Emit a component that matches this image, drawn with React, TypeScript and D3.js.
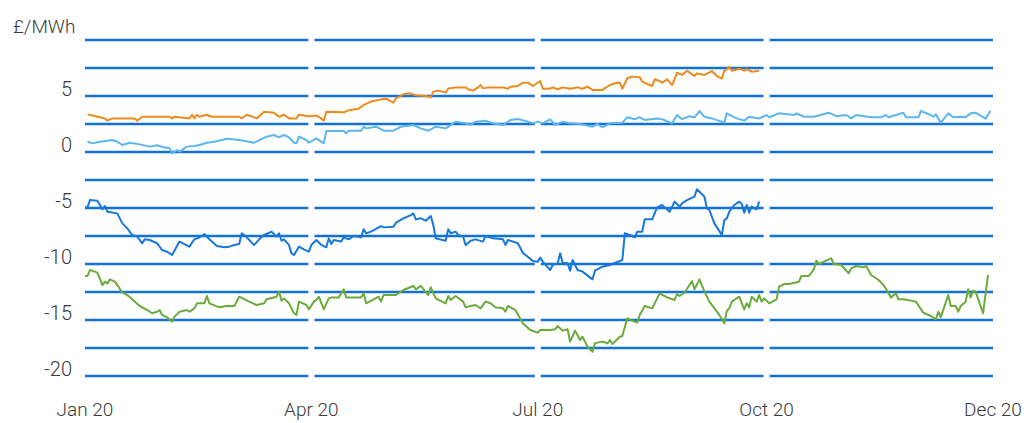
import * as React from "react"
import * as d3 from "d3"

// days counted from 1 Jan 2020, values in £/MWh
const orangeDay = [1, 6, 8, 9, 11, 20, 21, 23, 34, 35, 36, 42, 43, 44, 45, 46, 49, 51, 62, 63, 65, 67, 69, 72, 76, 78, 80, 82, 85, 86, 90, 93, 94, 96, 97, 104, 106, 110, 112, 115, 119, 121, 124, 125, 128, 131, 133, 137, 139, 140, 142, 145, 146, 149, 153, 154, 156, 158, 159, 160, 162, 168, 170, 171, 174, 176, 178, 180, 183, 184, 187, 188, 190, 192, 195, 198, 200, 202, 204, 208, 211, 214, 215, 216, 218, 220, 223, 224, 226, 228, 229, 231, 232, 234, 236, 237, 238, 240, 242, 245, 246, 249, 252, 254, 256, 257, 258, 259, 260, 263, 265, 266, 268, 271]
const orange = [3.36, 3.1, 3.0, 2.8, 3.0, 3.0, 2.8, 3.15, 3.15, 3.0, 3.15, 3.0, 3.33, 3.0, 3.33, 3.15, 3.33, 3.15, 3.15, 3.0, 3.33, 3.18, 3.0, 3.6, 3.5, 3.15, 3.33, 3.0, 3.0, 3.33, 3.2, 3.25, 3.15, 2.8, 3.6, 3.54, 3.72, 3.87, 4.2, 4.5, 4.7, 4.76, 4.4, 4.79, 5.15, 5.24, 5.06, 5.0, 4.88, 5.39, 5.48, 5.3, 5.68, 5.77, 5.77, 5.6, 5.48, 5.77, 5.98, 5.68, 5.77, 5.77, 5.65, 5.83, 5.89, 6.19, 6.19, 5.89, 6.34, 5.65, 5.65, 5.77, 5.6, 5.77, 5.65, 5.77, 5.65, 5.83, 5.54, 5.54, 5.98, 6.19, 6.19, 5.65, 6.58, 6.73, 6.67, 6.28, 6.07, 5.89, 6.49, 6.34, 6.19, 6.49, 5.98, 6.5, 7.08, 6.88, 7.26, 6.79, 7.02, 6.88, 7.23, 6.79, 6.55, 7.26, 7.38, 7.62, 7.26, 7.44, 7.26, 7.41, 7.17, 7.26]

const lightDay = [1, 3, 6, 11, 13, 15, 18, 22, 26, 29, 31, 34, 35, 37, 38, 41, 44, 46, 49, 52, 57, 62, 68, 73, 76, 78, 80, 82, 84, 85, 86, 89, 90, 93, 96, 97, 104, 105, 106, 111, 112, 113, 117, 120, 124, 127, 132, 135, 138, 141, 145, 149, 153, 155, 157, 161, 164, 168, 171, 174, 178, 180, 182, 184, 187, 189, 192, 195, 199, 204, 206, 208, 211, 216, 218, 221, 223, 225, 230, 232, 236, 238, 240, 243, 245, 247, 249, 252, 257, 258, 260, 262, 265, 267, 271, 274, 275, 279, 285, 286, 289, 293, 299, 302, 306, 308, 310, 316, 320, 322, 323, 326, 329, 330, 335, 336, 340, 341, 342, 344, 347, 349, 352, 354, 356, 358, 362, 364]
const light = [0.92, 0.77, 0.92, 1.07, 0.92, 0.625, 0.83, 0.68, 0.48, 0.6, 0.45, 0.33, -0.12, 0.18, 0.03, 0.48, 0.54, 0.625, 0.83, 0.92, 1.19, 1.07, 0.83, 1.37, 1.52, 1.31, 1.52, 1.31, 0.83, 0.77, 1.37, 1.07, 0.83, 1.22, 0.77, 1.875, 1.875, 1.67, 1.9, 1.9, 2.26, 2.11, 2.26, 1.9, 1.9, 2.26, 2.41, 2.11, 1.9, 2.26, 2.11, 2.71, 2.56, 2.41, 2.71, 2.8, 2.56, 2.41, 2.86, 2.95, 2.71, 2.56, 2.71, 2.56, 2.92, 2.41, 2.71, 2.56, 2.5, 2.26, 2.5, 2.2, 2.56, 2.62, 3.1, 2.92, 3.1, 2.86, 3.0, 2.92, 2.56, 3.3, 2.92, 3.2, 3.1, 3.66, 3.15, 3.0, 2.62, 3.45, 3.2, 3.0, 2.8, 3.15, 3.0, 3.3, 3.1, 3.45, 3.3, 3.45, 3.15, 3.15, 3.51, 3.2, 3.3, 3.0, 3.3, 3.1, 3.1, 3.3, 3.1, 3.3, 3.51, 3.1, 3.1, 3.66, 3.3, 3.15, 3.36, 2.62, 3.45, 3.1, 3.15, 3.1, 3.45, 3.51, 2.98, 3.69]

const blueDay = [0, 1, 2, 5, 7, 8, 9, 13, 15, 17, 19, 21, 23, 24, 26, 29, 31, 33, 35, 38, 42, 43, 44, 46, 48, 50, 53, 56, 58, 60, 62, 63, 65, 68, 70, 72, 75, 77, 78, 79, 80, 82, 83, 84, 86, 88, 90, 91, 93, 95, 97, 98, 99, 100, 103, 104, 106, 108, 111, 112, 113, 115, 119, 120, 124, 125, 128, 131, 132, 133, 135, 137, 139, 140, 141, 145, 146, 147, 149, 150, 152, 153, 155, 157, 160, 161, 164, 168, 169, 170, 174, 176, 180, 182, 183, 184, 187, 188, 190, 191, 192, 194, 195, 196, 198, 200, 204, 205, 208, 211, 216, 217, 219, 221, 222, 224, 225, 228, 230, 232, 235, 237, 239, 240, 242, 245, 246, 249, 250, 251, 253, 256, 257, 258, 259, 261, 263, 264, 265, 266, 267, 268, 269, 270, 271]
const blue = [-4.94, -4.94, -4.29, -4.35, -5.12, -4.82, -5.33, -5.48, -6.37, -6.82, -7.41, -7.56, -8.15, -7.8, -7.86, -8.15, -8.75, -8.9, -9.2, -8.0, -8.45, -8.1, -7.8, -7.62, -7.32, -7.8, -8.39, -8.51, -8.45, -8.3, -8.21, -7.26, -7.62, -8.3, -7.8, -7.41, -7.11, -7.56, -7.26, -7.92, -7.8, -8.3, -9.05, -9.2, -8.45, -8.69, -8.9, -8.3, -7.86, -8.3, -8.51, -7.71, -8.21, -7.86, -8.0, -7.62, -7.8, -7.5, -7.62, -6.9, -7.26, -7.11, -6.61, -6.73, -6.67, -6.31, -5.92, -5.63, -5.48, -6.01, -5.92, -6.13, -5.71, -6.52, -7.71, -7.92, -6.9, -7.26, -7.11, -7.41, -7.56, -8.3, -7.92, -7.8, -8.0, -7.5, -7.71, -7.8, -8.3, -7.86, -8.15, -8.99, -9.73, -9.79, -9.43, -9.79, -10.54, -10.09, -9.94, -9.05, -9.88, -9.94, -10.6, -9.64, -10.54, -10.68, -11.37, -10.6, -10.24, -10.09, -9.64, -7.26, -7.41, -7.62, -7.11, -7.11, -6.01, -6.01, -4.94, -4.73, -5.33, -4.43, -4.88, -4.58, -4.3, -3.99, -3.33, -3.99, -5.03, -5.18, -6.37, -7.41, -6.07, -5.92, -5.33, -4.73, -4.43, -4.64, -5.42, -4.73, -5.42, -4.88, -5.03, -5.12, -4.43]

const greenDay = [0, 1, 2, 4, 5, 7, 8, 9, 10, 12, 13, 15, 17, 19, 22, 25, 27, 29, 30, 31, 33, 35, 36, 38, 41, 42, 44, 45, 48, 49, 50, 54, 57, 60, 62, 66, 69, 72, 73, 77, 78, 79, 80, 82, 84, 85, 86, 89, 90, 92, 93, 94, 96, 98, 99, 102, 104, 105, 111, 112, 113, 116, 118, 119, 120, 125, 128, 132, 133, 135, 138, 139, 141, 145, 146, 147, 149, 152, 153, 155, 157, 159, 161, 163, 165, 168, 169, 170, 173, 176, 179, 182, 183, 187, 189, 190, 192, 194, 195, 197, 199, 200, 202, 204, 205, 206, 208, 210, 211, 212, 215, 216, 218, 220, 222, 223, 225, 228, 231, 234, 237, 238, 239, 241, 244, 245, 247, 249, 251, 255, 257, 258, 259, 260, 263, 265, 266, 267, 268, 270, 271, 272, 273, 275, 278, 279, 281, 283, 287, 288, 291, 293, 294, 295, 298, 300, 301, 304, 307, 308, 310, 313, 314, 316, 319, 321, 324, 326, 327, 329, 334, 337, 340, 342, 343, 344, 347, 348, 350, 351, 352, 354, 355, 356, 357, 358, 361, 363]
const green = [-11.07, -11.07, -10.54, -10.68, -10.77, -11.88, -11.58, -11.73, -11.37, -11.58, -11.88, -12.56, -12.77, -13.15, -13.75, -14.11, -14.4, -14.26, -14.11, -14.55, -14.76, -15.15, -14.7, -14.26, -14.11, -14.26, -13.96, -13.51, -13.51, -12.86, -13.51, -13.87, -13.75, -13.75, -12.92, -13.36, -13.66, -13.51, -13.15, -12.92, -12.47, -13.27, -13.07, -13.51, -14.4, -14.55, -13.36, -13.66, -14.05, -13.36, -13.21, -12.92, -14.05, -13.07, -13.0, -12.98, -12.26, -12.98, -12.98, -12.62, -13.51, -13.15, -12.92, -13.36, -12.77, -12.77, -12.32, -11.96, -12.26, -11.96, -12.77, -12.08, -13.07, -13.51, -12.86, -13.21, -12.86, -13.36, -13.87, -13.75, -13.66, -13.96, -13.36, -13.51, -13.87, -13.96, -14.26, -13.75, -14.11, -15.3, -15.89, -16.13, -15.89, -15.89, -15.83, -15.54, -15.95, -15.83, -16.93, -15.95, -16.79, -16.49, -17.38, -17.83, -17.08, -17.02, -16.93, -17.08, -16.79, -17.14, -16.49, -16.43, -14.85, -15.06, -15.24, -14.55, -13.75, -13.96, -12.62, -12.98, -13.21, -12.68, -12.86, -12.56, -11.52, -12.26, -11.37, -12.47, -13.36, -14.55, -15.3, -14.17, -13.96, -13.36, -12.92, -14.05, -13.51, -13.87, -12.92, -13.36, -12.77, -13.36, -13.07, -13.51, -13.15, -12.02, -11.79, -11.79, -11.58, -11.07, -11.07, -10.48, -9.7, -10.0, -9.7, -9.49, -10.0, -10.09, -10.83, -10.39, -10.18, -10.3, -10.18, -10.98, -11.43, -11.88, -12.98, -12.62, -13.15, -13.15, -13.36, -14.35, -14.64, -14.94, -14.26, -14.76, -12.77, -13.75, -13.75, -14.26, -13.75, -13.36, -12.26, -12.98, -12.38, -12.47, -14.4, -10.98]

const gridValues = [10, 7.5, 5, 2.5, 0, -2.5, -5, -7.5, -10, -12.5, -15, -17.5, -20]
const tickValues = [5, 0, -5, -10, -15, -20]
const quarterStarts = ["2020-01-01", "2020-04-01", "2020-07-01", "2020-10-01", "2020-12-31"]

const series = [
    { key: "light", days: lightDay, values: light, color: "#5cb6f2" },
    { key: "orange", days: orangeDay, values: orange, color: "#ee8a1d" },
    { key: "blue", days: blueDay, values: blue, color: "#1778dc" },
    { key: "green", days: greenDay, values: green, color: "#6aab3c" },
]

const dayToDate = (d: number) => new Date(2020, 0, 1 + d)
const parse = d3.timeParse("%Y-%m-%d")

export default function App() {
    const [w, h] = [1030, 423]
    const font = "Roboto, 'DejaVu Sans', sans-serif"

    const x = d3
        .scaleTime()
        .domain([new Date(2020, 0, 1), new Date(2020, 11, 31)])
        .range([85, 993])

    const y = d3.scaleLinear().domain([-20, 10]).range([376, 40])

    const bounds = quarterStarts.map(s => x(parse(s) as Date))
    const gap = 3

    const line = d3
        .line<[number, number]>()
        .x(d => x(dayToDate(d[0])))
        .y(d => y(d[1]))

    const fmt = d3.timeFormat("%b %y")

    return (
        <div style={{ position: "absolute", left: 0, top: 0 }}>
            <svg width={w} height={h} style={{ display: "block" }}>
                <rect width={w} height={h} fill="white" />
                {gridValues.map((v, i) => (
                    <g key={i}>
                        {bounds.slice(0, -1).map((b, q) => (
                            <line
                                key={q}
                                x1={q === 0 ? b : b + gap}
                                x2={q === bounds.length - 2 ? bounds[q + 1] : bounds[q + 1] - gap}
                                y1={y(v)}
                                y2={y(v)}
                                stroke="#1472d6"
                                strokeWidth={2.6}
                            />
                        ))}
                    </g>
                ))}
                {series.map(s => (
                    <path
                        key={s.key}
                        d={line(s.days.map((d, i) => [d, s.values[i]] as [number, number])) ?? ""}
                        fill="none"
                        stroke={s.color}
                        strokeWidth={2}
                        strokeLinejoin="round"
                    />
                ))}
                {tickValues.map(v => (
                    <text
                        key={v}
                        x={72}
                        y={y(v)}
                        textAnchor="end"
                        fontFamily={font}
                        fontWeight={300}
                        fontSize={20}
                        fill="#3a3a3a"
                    >
                        {v}
                    </text>
                ))}
                <text x={13} y={33} fontFamily={font} fontWeight={300} fontSize={19} fill="#3a3a3a">
                    £/MWh
                </text>
                {bounds.map((b, i) => (
                    <text
                        key={i}
                        x={b}
                        y={416}
                        textAnchor="middle"
                        fontFamily={font}
                        fontWeight={300}
                        fontSize={19}
                        fill="#3a3a3a"
                    >
                        {fmt(parse(quarterStarts[i]) as Date)}
                    </text>
                ))}
            </svg>
        </div>
    )
}
